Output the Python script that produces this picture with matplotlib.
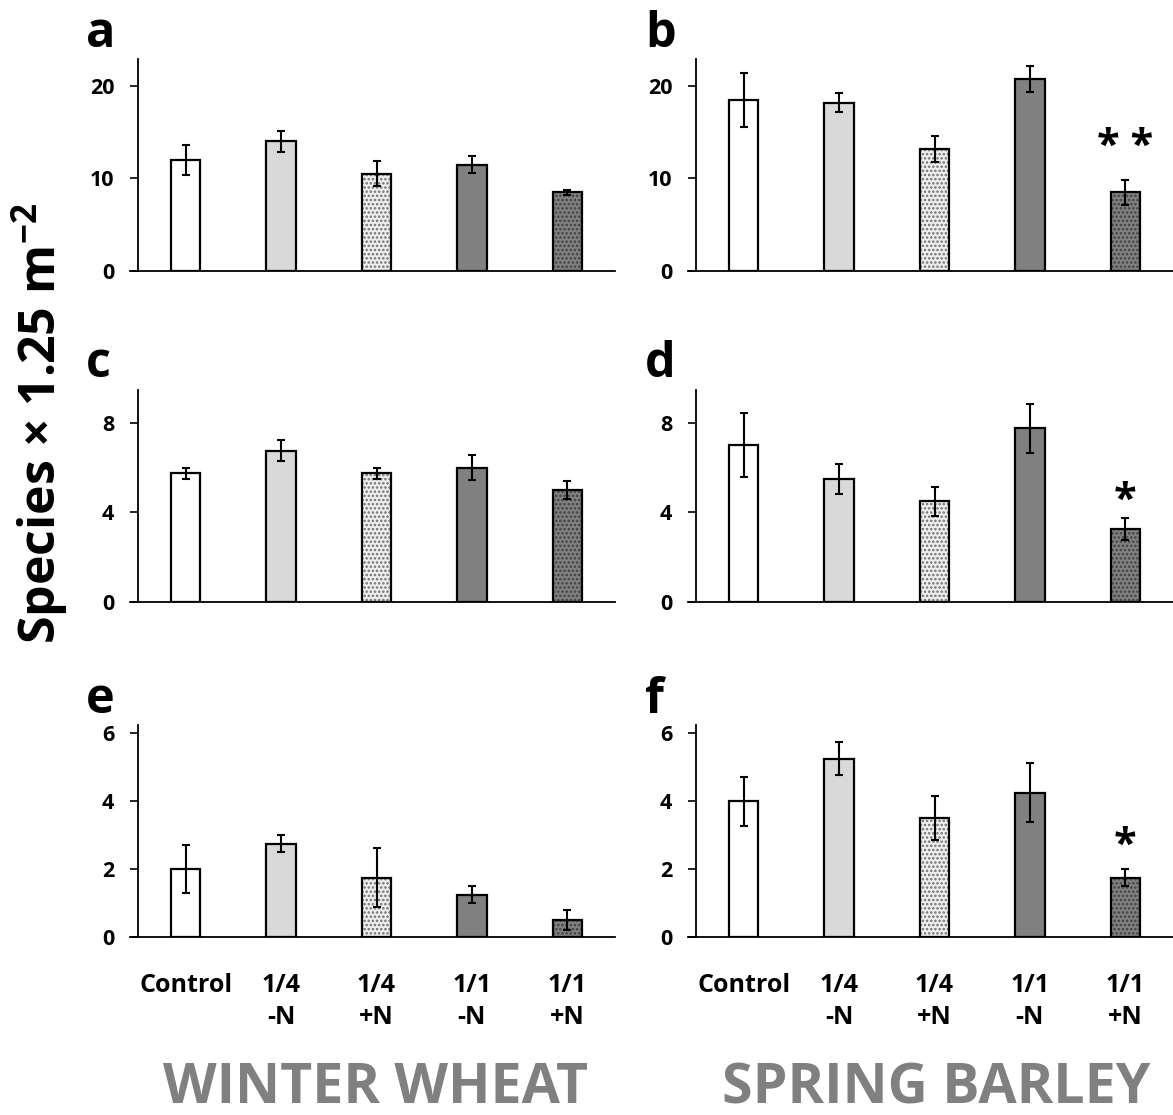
import numpy as np
import matplotlib
matplotlib.use("Agg")
import matplotlib.pyplot as plt

plt.rcParams['font.family'] = ['Open Sans', 'DejaVu Sans']
plt.rcParams['font.weight'] = 'bold'
plt.rcParams['mathtext.fontset'] = 'custom'
plt.rcParams['mathtext.rm'] = 'Open Sans:bold'
plt.rcParams['mathtext.bf'] = 'Open Sans:bold'
plt.rcParams['mathtext.default'] = 'bf'
plt.rcParams['hatch.linewidth'] = 1.2

treatments = ["Control", "1/4\n-N", "1/4\n+N", "1/1\n-N", "1/1\n+N"]

# means and standard errors, per panel
wheat_all = [12.0, 14.0, 10.5, 11.5, 8.5]
wheat_all_se = [1.6, 1.1, 1.35, 0.87, 0.3]
barley_all = [18.45, 18.2, 13.2, 20.7, 8.5]
barley_all_se = [2.9, 1.0, 1.4, 1.4, 1.33]

wheat_c = [5.75, 6.75, 5.75, 6.0, 5.0]
wheat_c_se = [0.25, 0.47, 0.25, 0.57, 0.42]
barley_d = [7.0, 5.5, 4.5, 7.75, 3.25]
barley_d_se = [1.42, 0.66, 0.65, 1.1, 0.49]

wheat_e = [2.0, 2.75, 1.75, 1.25, 0.5]
wheat_e_se = [0.71, 0.25, 0.86, 0.25, 0.29]
barley_f = [4.0, 5.25, 3.5, 4.25, 1.75]
barley_f_se = [0.72, 0.48, 0.65, 0.86, 0.25]

letters = ["a", "b", "c", "d", "e", "f"]
signif_b = "* *"
signif_d = "*"
signif_f = "*"

faces = ["white", "#d9d9d9", "#eeeeee", "#808080", "#808080"]
dots = [None, None, "#707070", None, "#404040"]

W, H = 1173, 1115
fig = plt.figure(figsize=(W / 100, H / 100), dpi=100)


def px_axes(left, right, bottom, top):
    return fig.add_axes([left / W, 1 - bottom / H, (right - left) / W, (bottom - top) / H])


def draw_panel(ax, vals, errs, ylim, yticks, show_x, star=None):
    x = np.arange(len(vals))
    for i in range(len(vals)):
        if dots[i] is not None:
            ax.bar(x[i], vals[i], width=0.31, color=faces[i], edgecolor=dots[i],
                   hatch="....", linewidth=0, zorder=2)
        else:
            ax.bar(x[i], vals[i], width=0.31, color=faces[i], linewidth=0, zorder=2)
        ax.bar(x[i], vals[i], width=0.31, fill=False, edgecolor="black",
               linewidth=1.6, zorder=3)
    ax.errorbar(x, vals, yerr=errs, fmt="none", ecolor="black", elinewidth=1.5,
                capsize=3.2, capthick=1.5, zorder=4)
    ax.set_xlim(-0.5, 4.5)
    ax.set_ylim(*ylim)
    ax.set_yticks(yticks)
    ax.tick_params(axis="y", direction="out", length=6, width=1.2, pad=11,
                   labelsize=15.5)
    for s in ["top", "right"]:
        ax.spines[s].set_visible(False)
    ax.spines["left"].set_linewidth(1.3)
    ax.spines["bottom"].set_linewidth(1.3)
    ax.spines["bottom"].set_bounds(-0.58, 4.5)
    ax.set_xticks(x)
    if show_x:
        ax.set_xticklabels(treatments, fontsize=18, linespacing=1.38)
        ax.tick_params(axis="x", length=0, pad=26)
    else:
        ax.set_xticklabels([])
        ax.tick_params(axis="x", length=0)
    if star is not None:
        ax.text(4, star[1], star[0], ha="center", va="center", fontsize=30)


ax_a = px_axes(138, 615, 271, 59)
ax_b = px_axes(696, 1173, 271, 59)
ax_c = px_axes(138, 615, 602, 390)
ax_d = px_axes(696, 1173, 602, 390)
ax_e = px_axes(138, 615, 937, 725)
ax_f = px_axes(696, 1173, 937, 725)

draw_panel(ax_a, wheat_all, wheat_all_se, (0, 22.9), [0, 10, 20], False)
draw_panel(ax_b, barley_all, barley_all_se, (0, 22.9), [0, 10, 20], False,
           star=(signif_b, 13.3))
draw_panel(ax_c, wheat_c, wheat_c_se, (0, 9.46), [0, 4, 8], False)
draw_panel(ax_d, barley_d, barley_d_se, (0, 9.46), [0, 4, 8], False,
           star=(signif_d, 4.5))
draw_panel(ax_e, wheat_e, wheat_e_se, (0, 6.24), [0, 2, 4, 6], True)
draw_panel(ax_f, barley_f, barley_f_se, (0, 6.24), [0, 2, 4, 6], True,
           star=(signif_f, 2.67))

letter_pos = [(86, 47), (645, 47), (86, 377), (645, 377), (86, 713), (645, 713)]
for lt, (lx, ly) in zip(letters, letter_pos):
    fig.text(lx / W, 1 - ly / H, lt, fontsize=35, fontweight="bold",
             ha="left", va="baseline")

fig.text(40 / W, 1 - 424 / H, "Species × 1.25 m$^{-2}$", rotation=90,
         fontsize=36, fontweight="bold", ha="center", va="center")

fig.text(376 / W, 1 - 1103 / H, "WINTER WHEAT", fontsize=40, fontweight="bold",
         color="#808080", ha="center", va="baseline")
fig.text(936 / W, 1 - 1103 / H, "SPRING BARLEY", fontsize=40, fontweight="bold",
         color="#808080", ha="center", va="baseline")

fig.savefig("out.png", dpi=100)
